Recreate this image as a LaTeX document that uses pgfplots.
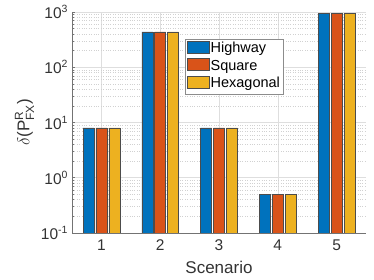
\documentclass[border=0pt]{standalone}
\usepackage{pgfplots}
\pgfplotsset{compat=1.18}
\usepackage{amsmath}
\usepackage{fontspec}
\setmainfont{Liberation Sans}
\definecolor{mblue}{rgb}{0,0.447,0.741}
\definecolor{morange}{rgb}{0.85,0.325,0.098}
\definecolor{myellow}{rgb}{0.929,0.694,0.125}
\newcommand{\ex}[1]{10\raisebox{6pt}{\fontsize{10.5}{11}\selectfont #1}}
\begin{document}
\begin{tikzpicture}
\begin{axis}[
  scale only axis,
  width=294pt, height=221pt,
  ymode=log, log origin y=infty,
  xmin=0.5, xmax=5.5, ymin=0.1, ymax=1000,
  ybar=1.9pt, bar width=11pt,
  xtick={1,2,3,4,5}, xticklabels={1,2,3,4,5},
  ytick={0.1,1,10,100,1000},
  yticklabels={\ex{-1},\ex{0},\ex{1},\ex{2},\ex{3}},
  axis x line*=bottom, axis y line*=left,
  axis line style={black!55, line width=0.5pt},
  tick style={black!55, line width=0.5pt},
  tick align=inside,
  major tick length=3pt, minor tick length=1.6pt,
  xmajorgrids, ymajorgrids, yminorgrids,
  major grid style={black!13, line width=0.5pt},
  minor grid style={black!18, dotted, line width=0.5pt},
  ticklabel style={font=\fontsize{15.5}{17}\selectfont, text=black!80},
  xticklabel style={yshift=-3pt},
  yticklabel style={xshift=-1pt},
  xlabel={Scenario},
  xlabel style={yshift=-4pt},
  ylabel={$\delta$(P$^{\text{R}}_{\text{FX}}$)},
  label style={font=\fontsize{17}{19}\selectfont, text=black!80},
  legend style={at={(rel axis cs:0.384,0.878)}, anchor=north west,
    draw=black!45, font=\fontsize{14.5}{16}\selectfont, fill=white,
    inner xsep=2pt, inner ysep=2pt, row sep=1pt,
    nodes={text height=10.5pt, text depth=3.5pt, inner sep=1pt}},
  legend cell align=left,
  legend image code/.code={\draw[#1, draw=black!70] (0pt,-4pt) rectangle (22pt,8pt);},
  axis on top=false,
]
\addplot[fill=mblue, draw=black!70, line width=0.5pt] coordinates {(1,8) (2,437) (3,8) (4,0.5) (5,950)};
\addplot[fill=morange, draw=black!70, line width=0.5pt] coordinates {(1,8) (2,437) (3,8) (4,0.5) (5,950)};
\addplot[fill=myellow, draw=black!70, line width=0.5pt] coordinates {(1,8) (2,437) (3,8) (4,0.5) (5,950)};
\legend{Highway,Square,Hexagonal}
\end{axis}
\path ([xshift=-72pt,yshift=-47pt]current axis.south west) rectangle ([xshift=8pt,yshift=12pt]current axis.north east);
\end{tikzpicture}
\end{document}
